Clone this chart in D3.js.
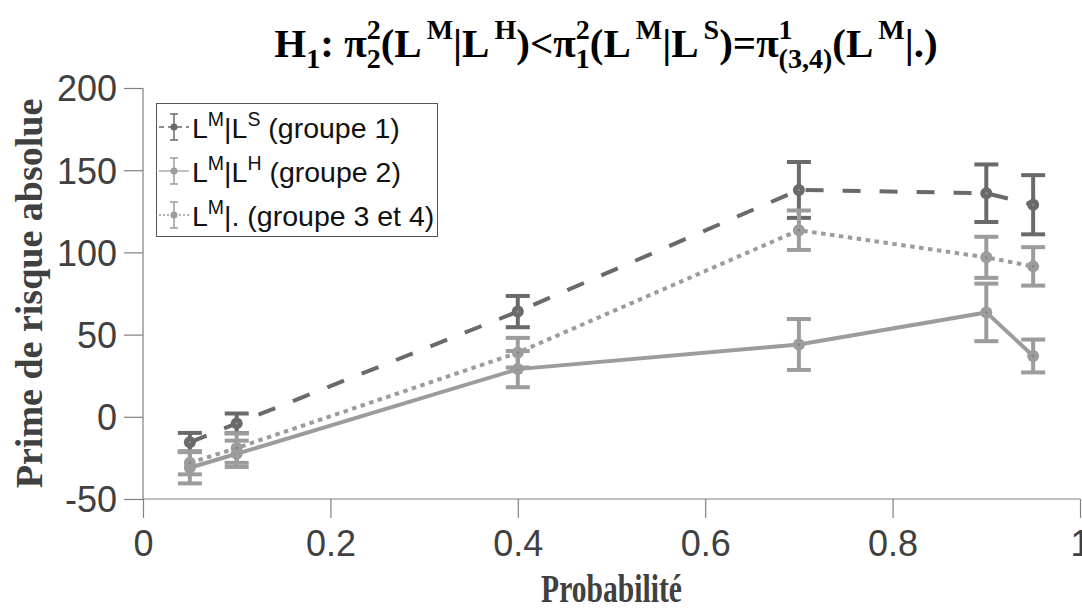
<!DOCTYPE html>
<html><head><meta charset="utf-8">
<script src="https://cdn.jsdelivr.net/npm/d3@7"></script>
<style>body{margin:0;background:#fff}svg{display:block}</style></head>
<body><svg id="c" width="1082" height="612"></svg>
<script>
// ---- data ----
const probabilities = [0.05, 0.1, 0.4, 0.7, 0.9, 0.95];
const group1Mean = [-15.5, -4, 64, 138, 136, 129];
const group1Err  = [5.7, 6, 9.5, 17, 17.5, 18];
const group2Mean = [-31, -22.5, 29, 44, 63.5, 37];
const group2Err  = [9.5, 8, 11, 15.5, 17.5, 10];
const group3Mean = [-28, -19, 39, 113.5, 97, 91.5];
const group3Err  = [7, 9, 9, 12, 12.5, 11.7];
const xTicks = [0, 0.2, 0.4, 0.6, 0.8, 1];
const xTickLabels = ["0", "0.2", "0.4", "0.6", "0.8", "1"];
const yTicks = [-50, 0, 50, 100, 150, 200];
const yTickLabels = ["-50", "0", "50", "100", "150", "200"];
const seriesNames = ["groupe 1", "groupe 2", "groupe 3 et 4"];

const svg = d3.select("#c");
const x = d3.scaleLinear().domain([0, 1]).range([143, 1080]);
const y = d3.scaleLinear().domain([-50, 200]).range([499, 88]);

// axes
const axisColor = "#808080", tickTextColor = "#404040";
const gx = svg.append("g").attr("transform", `translate(0,${y(-50)})`)
  .call(d3.axisBottom(x).tickValues(xTicks).tickFormat((d, i) => xTickLabels[i]).tickSize(19).tickPadding(12));
const gy = svg.append("g").attr("transform", `translate(${x(0)},0)`)
  .call(d3.axisLeft(y).tickValues(yTicks).tickFormat((d, i) => yTickLabels[i]).tickSize(19).tickPadding(7));
[gx, gy].forEach(g => {
  g.select(".domain").attr("stroke", axisColor).attr("stroke-width", 1.2);
  g.selectAll(".tick line").attr("stroke", axisColor).attr("stroke-width", 1.2);
  g.selectAll(".tick text").attr("fill", tickTextColor)
    .style("font-family", "'Liberation Sans', Arial, sans-serif").style("font-size", "36px");
});
gx.select(".domain").attr("d", `M${x(0)},0H${x(1)}`);
gy.select(".domain").attr("d", `M0,${y(200)}V${y(-50)}`);
gy.selectAll(".tick text").attr("dy", "0.36em");

// series
const series = [
  {mean: group1Mean, err: group1Err, color: "#6a6a6a", dot: "#8a8a8a", dash: "18,19"},
  {mean: group2Mean, err: group2Err, color: "#9c9c9c", dot: "#808080", dash: null},
  {mean: group3Mean, err: group3Err, color: "#9c9c9c", dot: "#808080", dash: "4.5,4.5"}
];
const capHalf = 12;
series.forEach(s => {
  const pts = probabilities.map((p, i) => ({p, m: s.mean[i], e: s.err[i]}));
  const g = svg.append("g");
  g.append("path").datum(pts)
    .attr("d", d3.line().x(d => x(d.p)).y(d => y(d.m)))
    .attr("fill", "none").attr("stroke", s.color).attr("stroke-width", 4)
    .attr("stroke-dasharray", s.dash);
  const eb = g.selectAll(".eb").data(pts).enter().append("g");
  eb.append("line").attr("x1", d => x(d.p)).attr("x2", d => x(d.p))
    .attr("y1", d => y(d.m - d.e)).attr("y2", d => y(d.m + d.e))
    .attr("stroke", s.color).attr("stroke-width", 4);
  ["top", "bot"].forEach(k => {
    eb.append("line").attr("x1", d => x(d.p) - capHalf).attr("x2", d => x(d.p) + capHalf)
      .attr("y1", d => y(k === "top" ? d.m + d.e : d.m - d.e))
      .attr("y2", d => y(k === "top" ? d.m + d.e : d.m - d.e))
      .attr("stroke", s.color).attr("stroke-width", 4);
  });
  eb.append("circle").attr("cx", d => x(d.p)).attr("cy", d => y(d.m)).attr("r", 6).attr("fill", s.color);
  eb.append("circle").attr("cx", d => x(d.p)).attr("cy", d => y(d.m)).attr("r", 1.2).attr("fill", s.dot);
});

// rich text helper
function rich(parent, items, fam, weight, base, color) {
  const g = parent.append("g");
  let cx = 0;
  items.forEach(it => {
    if (it.stack) {
      let w = 0;
      it.stack.forEach(st => {
        const t = g.append("text").attr("x", cx).attr("y", st.dy)
          .style("font-family", fam).style("font-weight", weight).style("font-size", st.fs + "px")
          .attr("fill", color).text(st.t);
        w = Math.max(w, t.node().getComputedTextLength());
      });
      cx += w + (it.gap || 0);
    } else {
      const t = g.append("text").attr("x", cx).attr("y", it.dy || 0)
        .style("font-family", fam).style("font-weight", weight).style("font-size", (it.fs || base) + "px")
        .attr("fill", color).attr("xml:space", "preserve").text(it.t);
      cx += t.node().getComputedTextLength() + (it.gap || 0);
    }
  });
  return {g, w: cx};
}

// title
const TF = 41, TS = 28;
const sup = t => ({t, fs: TS, dy: -18});
const sub = t => ({t, fs: TS, dy: 11});
const titleItems = [
  {t: "H"}, sub("1"), {t: ": π"}, {stack: [sup("2"), sub("2")]},
  {t: "(L", gap: 5}, sup("M"), {t: "|L", gap: 5}, sup("H"), {t: ")<π"}, {stack: [sup("2"), sub("1")]},
  {t: "(L", gap: 5}, sup("M"), {t: "|L", gap: 5}, sup("S"), {t: ")=π"}, {stack: [sup("1"), sub("(3,4)")]},
  {t: "(L", gap: 5}, sup("M"), {t: "|.)"}
];
const title = rich(svg, titleItems, "'Liberation Serif', 'Times New Roman', serif", "bold", TF, "#000");
title.g.attr("transform", `translate(${606 - title.w / 2},57)`);

// axis labels
svg.append("text").attr("transform", `translate(${(x(0) + x(1)) / 2},602) scale(0.74,1)`).attr("text-anchor", "middle")
  .style("font-family", "'Liberation Serif', 'Times New Roman', serif").style("font-weight", "bold")
  .style("font-size", "40px").attr("fill", "#404040").text("Probabilité");
svg.append("text").attr("transform", `translate(42,${(y(-50) + y(200)) / 2}) rotate(-90)`)
  .attr("text-anchor", "middle")
  .style("font-family", "'Liberation Serif', 'Times New Roman', serif").style("font-weight", "bold")
  .style("font-size", "38px").attr("fill", "#404040").text("Prime de risque absolue");

// legend
const leg = svg.append("g");
leg.append("rect").attr("x", 156.5).attr("y", 103.5).attr("width", 281).attr("height", 133)
  .attr("fill", "#fff").attr("stroke", "#555").attr("stroke-width", 1);
const LF = 28.5, LS = 19.5;
const legendItems = [
  [{t: "L"}, {t: "M", fs: LS, dy: -12}, {t: "|L"}, {t: "S", fs: LS, dy: -12}, {t: " (" + seriesNames[0] + ")"}],
  [{t: "L"}, {t: "M", fs: LS, dy: -12}, {t: "|L"}, {t: "H", fs: LS, dy: -12}, {t: " (" + seriesNames[1] + ")"}],
  [{t: "L"}, {t: "M", fs: LS, dy: -12}, {t: "|. (" + seriesNames[2] + ")"}]
];
series.forEach((s, i) => {
  const cy = 127 + i * 44;
  const ix = 174;
  leg.append("line").attr("x1", 159).attr("x2", 189).attr("y1", cy).attr("y2", cy)
    .attr("stroke", s.color).attr("stroke-width", 1.3)
    .attr("stroke-dasharray", s.dash ? (i === 0 ? "5,4" : "2,2") : null);
  leg.append("line").attr("x1", ix).attr("x2", ix).attr("y1", cy - 13).attr("y2", cy + 13)
    .attr("stroke", s.color).attr("stroke-width", 1.5);
  [cy - 13, cy + 13].forEach(yy => leg.append("line").attr("x1", ix - 4).attr("x2", ix + 4)
    .attr("y1", yy).attr("y2", yy).attr("stroke", s.color).attr("stroke-width", 1.5));
  leg.append("circle").attr("cx", ix).attr("cy", cy).attr("r", 3.5).attr("fill", s.color);
  const r = rich(leg, legendItems[i], "'Liberation Sans', Arial, sans-serif", "normal", LF, "#111");
  r.g.attr("transform", `translate(192,${cy + 11})`);
});
</script></body></html>
